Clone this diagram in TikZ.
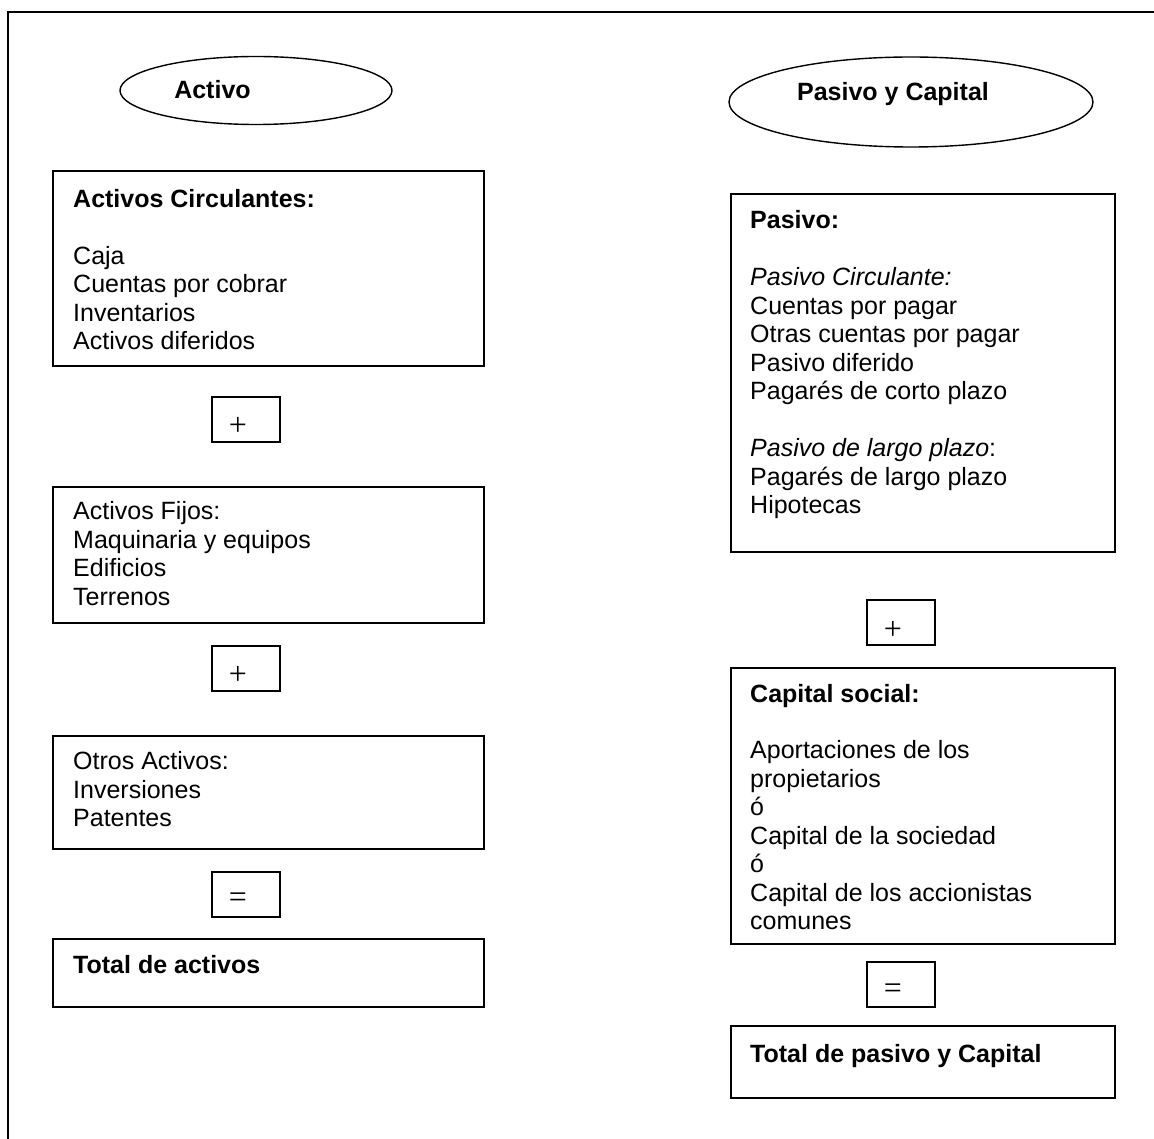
\documentclass[tikz,border=0pt]{standalone}
\usepackage{fontspec}
\setmainfont{Liberation Sans}
\newfontfamily\opfont{Liberation Serif}
\usetikzlibrary{shapes.geometric}
\begin{document}
\begin{tikzpicture}[x=1pt,y=-1pt,
  frameline/.style={line width=1.5pt},
  box/.style={draw, line width=1.6pt, rectangle, inner sep=0pt, anchor=north west},
  opbox/.style={box, minimum width=68pt, minimum height=45pt},
  oval/.style={draw, line width=1.4pt, ellipse, inner sep=0pt},
  txt/.style={anchor=north west, inner sep=0pt, align=left,
    font=\fontsize{25}{28.5}\selectfont, execute at begin node=\strut},
  title/.style={anchor=base, inner sep=0pt, font=\fontsize{25}{28.5}\selectfont\bfseries},
  opsym/.style={inner sep=0pt, font=\opfont\fontsize{32}{34}\selectfont}
]
\useasboundingbox (0,0) rectangle (1154,1139);
\draw[frameline] (1154,12) -- (8,12) -- (8,1139);

% ---- headers ----
\node[oval, minimum width=272pt, minimum height=68pt] (activo) at (256,90.5) {};
\node[title] (activo-t) at (212.5,99) {Activo};
\node[oval, minimum width=364pt, minimum height=90pt] (pasivo) at (911,102) {};
\node[title] (pasivo-t) at (893,101) {Pasivo y Capital};

% ---- left column ----
\node[box, minimum width=431pt, minimum height=195pt] (ac) at (52,170) {};
\node[txt] (ac-t) at (73,189) {\textbf{Activos Circulantes:}\\[28.5pt]
  Caja\\ Cuentas por cobrar\\ Inventarios\\ Activos diferidos};

\node[opbox] (op1) at (211,396) {};
\node[opsym] (op1-s) at (238,426) {+};

\node[box, minimum width=431pt, minimum height=136pt] (af) at (52,486) {};
\node[txt] (af-t) at (73,501.5) {Activos Fijos:\\ Maquinaria y equipos\\ Edificios\\ Terrenos};

\node[opbox] (op2) at (211,645) {};
\node[opsym] (op2-s) at (238,675) {+};

\node[box, minimum width=431pt, minimum height=113pt] (oa) at (52,735) {};
\node[txt] (oa-t) at (73,751.5) {Otros Activos:\\ Inversiones\\ Patentes};

\node[opbox] (op3) at (211,871) {};
\node[opsym] (op3-s) at (238,900) {=};

\node[box, minimum width=431pt, minimum height=68pt] (ta) at (52,938) {};
\node[txt] (ta-t) at (73,953.5) {\textbf{Total de activos}};

% ---- right column ----
\node[box, minimum width=384pt, minimum height=358pt] (pa) at (730,193) {};
\node[txt] (pa-t) at (750,210.5) {\textbf{Pasivo:}\\[28.5pt]
  \textit{Pasivo Circulante:}\\ Cuentas por pagar\\ Otras cuentas por pagar\\
  Pasivo diferido\\ Pagarés de corto plazo\\[28.5pt]
  \textit{Pasivo de largo plazo}:\\ Pagarés de largo plazo\\ Hipotecas};

\node[opbox] (op4) at (866,599) {};
\node[opsym] (op4-s) at (893,630) {+};

\node[box, minimum width=384pt, minimum height=276pt] (cs) at (730,667) {};
\node[txt] (cs-t) at (750,684.5) {\textbf{Capital social:}\\[27.5pt]
  Aportaciones de los\\ propietarios\\ ó\\ Capital de la sociedad\\ ó\\
  Capital de los accionistas\\ comunes};

\node[opbox] (op5) at (866,961) {};
\node[opsym] (op5-s) at (893,991) {=};

\node[box, minimum width=384pt, minimum height=72pt] (tp) at (730,1025) {};
\node[txt] (tp-t) at (750,1042.5) {\textbf{Total de pasivo y Capital}};
\end{tikzpicture}
\end{document}
